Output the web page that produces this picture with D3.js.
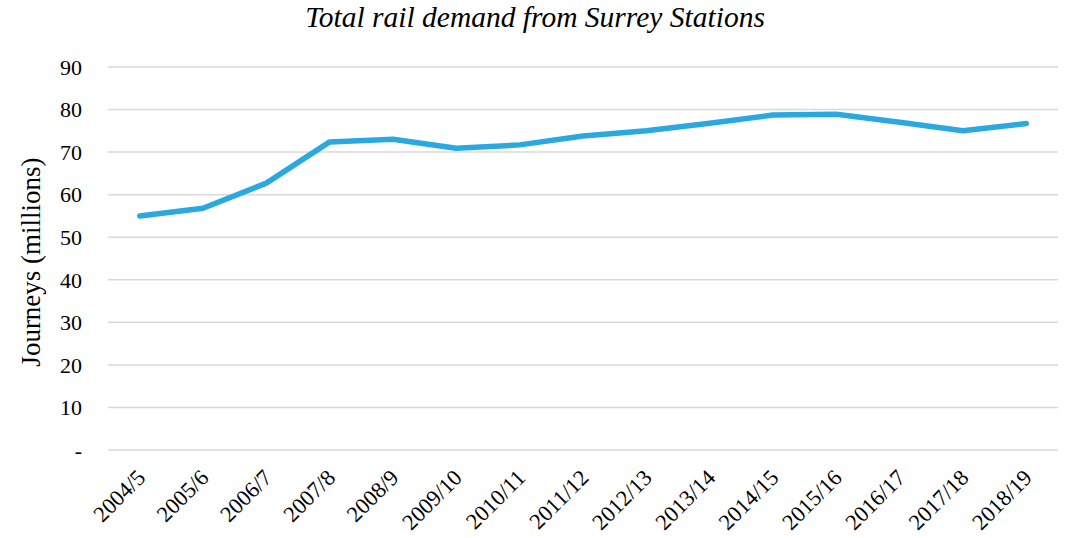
<!DOCTYPE html>
<html><head><meta charset="utf-8">
<script src="https://cdn.jsdelivr.net/npm/d3@7/dist/d3.min.js"></script>
<style>
html,body{margin:0;padding:0;background:#fff;}
</style></head>
<body>
<svg id="chart" width="1076" height="538"></svg>
<script>
const categories = ["2004/5","2005/6","2006/7","2007/8","2008/9","2009/10","2010/11","2011/12","2012/13","2013/14","2014/15","2015/16","2016/17","2017/18","2018/19"];
const journeys = [55.0,56.8,62.7,72.4,73.0,70.9,71.7,73.8,75.0,76.8,78.7,78.9,77.0,75.0,76.7];
const yTicks = [0,10,20,30,40,50,60,70,80,90];
const yTickLabels = ["-","10","20","30","40","50","60","70","80","90"];
const chartTitle = "Total rail demand from Surrey Stations";
const yTitle = "Journeys (millions)";

(function(){
const FONT = '"Liberation Serif","Times New Roman",serif';
const svg = d3.select("#chart");
const mLeft = 108, mRight = 1058, mTop = 67, mBottom = 450;

const x = d3.scaleBand().domain(categories).range([mLeft, mRight]).padding(0);
const y = d3.scaleLinear().domain([0, 90]).range([mBottom, mTop]);

// gridlines
svg.append("g").selectAll("line").data(yTicks).join("line")
  .attr("x1", mLeft).attr("x2", mRight)
  .attr("y1", d => y(d)).attr("y2", d => y(d))
  .attr("stroke", "#d9d9d9").attr("stroke-width", 1.5);

// y axis labels
const yAxis = d3.axisLeft(y).tickValues(yTicks).tickSize(0).tickPadding(0)
  .tickFormat((d, i) => yTickLabels[i]);
const gy = svg.append("g").attr("transform", `translate(82,0)`).call(yAxis);
gy.select(".domain").remove();
gy.selectAll("text").style("font-size", "22px").style("font-family", FONT)
  .attr("dy", "0.33em").attr("fill", "#000");

// x axis labels
const xAxis = d3.axisBottom(x).tickSize(0).tickPadding(0);
const gx = svg.append("g").attr("transform", `translate(0,${mBottom})`).call(xAxis);
gx.select(".domain").remove();
gx.selectAll("text")
  .style("font-size", "22.5px").style("font-family", FONT).attr("fill", "#000")
  .attr("text-anchor", "end")
  .attr("dy", null).attr("y", 0)
  .attr("transform", "translate(7,29) rotate(-45)");

// line
const line = d3.line().x((d, i) => x(categories[i]) + x.bandwidth() / 2).y(d => y(d));
svg.append("path").datum(journeys)
  .attr("d", line).attr("fill", "none")
  .attr("stroke", "#2aa8e0").attr("stroke-width", 5.5)
  .attr("stroke-linecap", "round").attr("stroke-linejoin", "round");

// title
svg.append("text").attr("x", 535).attr("y", 27).attr("text-anchor", "middle")
  .style("font-family", FONT).style("font-size", "29.5px").style("font-style", "italic")
  .attr("fill", "#000").text(chartTitle);

// y title
svg.append("text").attr("transform", `translate(40,262) rotate(-90)`)
  .attr("text-anchor", "middle").style("font-family", FONT).style("font-size", "27px")
  .attr("fill", "#000").text(yTitle);
})();
</script>
</body></html>
